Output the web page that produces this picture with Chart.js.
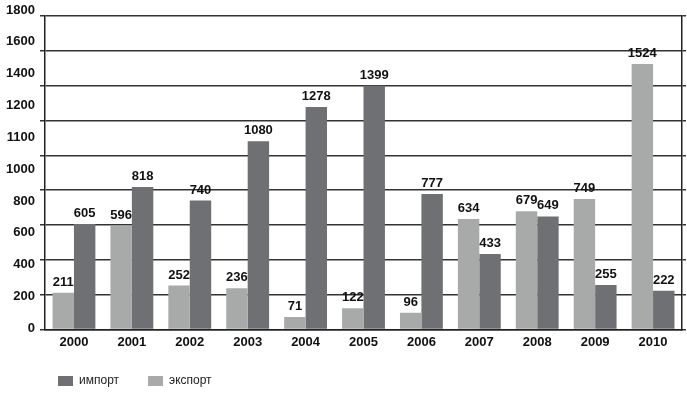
<!DOCTYPE html>
<html>
<head>
<meta charset="utf-8">
<script src="https://cdn.jsdelivr.net/npm/chart.js@4"></script>
<style>
    html, body { margin: 0; padding: 0; background: #fff; }
    #wrap { width: 687px; height: 395px; }
</style>
</head>
<body>
<div id="wrap"><canvas id="tradeChart" width="687" height="395"></canvas></div>
<script>
// ข้อมูลกราฟ
const years = ['2000', '2001', '2002', '2003', '2004', '2005', '2006', '2007', '2008', '2009', '2010'];
const exportVals = [211, 596, 252, 236, 71, 122, 96, 634, 679, 749, 1524];
const importVals = [605, 818, 740, 1080, 1278, 1399, 777, 433, 649, 255, 222];
const yTickLabels = ['0', '200', '400', '600', '800', '1000', '1100', '1200', '1400', '1600', '1800'];
const seriesNames = ['экспорт', 'импорт'];

const LIGHT = '#a8aaaa';
const DARK = '#6f7074';
const FONT = '"Liberation Sans", Arial, sans-serif';

// ตัวเลขบนหัวแท่ง
const valueLabels = {
    id: 'valueLabels',
    afterDatasetsDraw(chart) {
        const ctx = chart.ctx;
        ctx.save();
        ctx.font = 'bold 13px ' + FONT;
        ctx.fillStyle = '#111';
        ctx.textAlign = 'center';
        ctx.textBaseline = 'bottom';
        chart.data.datasets.forEach((ds, di) => {
            chart.getDatasetMeta(di).data.forEach((bar, i) => {
                ctx.fillText(String(ds.data[i]), bar.x, bar.y - 4);
            });
        });
        ctx.restore();
    }
};

// ย้าย legend ไปมุมล่างซ้าย
const legendShift = {
    id: 'legendShift',
    afterLayout(chart) {
        const lg = chart.legend;
        const pad = lg.options.labels.padding;
        lg.left = 58 - pad;
        lg.top = 375 - pad;
    }
};

const ctx = document.getElementById('tradeChart').getContext('2d');
new Chart(ctx, {
    type: 'bar',
    data: {
        labels: years,
        datasets: [
            { label: seriesNames[0], data: exportVals, backgroundColor: LIGHT },
            { label: seriesNames[1], data: importVals, backgroundColor: DARK }
        ]
    },
    options: {
        responsive: false,
        animation: false,
        layout: { padding: { top: 16, right: 0, left: 0, bottom: 0 } },
        datasets: { bar: { categoryPercentage: 0.74, barPercentage: 1.0 } },
        scales: {
            x: {
                grid: { display: false, drawTicks: false },
                border: { color: '#222', width: 1.5 },
                ticks: { font: { family: FONT, size: 13, weight: 'bold' }, color: '#111', padding: 5 }
            },
            y: {
                position: 'left',
                weight: 0,
                min: 0, max: 1800,
                ticks: { stepSize: 200, display: false },
                grid: { color: '#333', lineWidth: 1.5, tickLength: 5 },
                border: { color: '#222', width: 1.5 },
                afterFit(s) { s.width = 5; }
            },
            yl: {
                position: 'left',
                weight: 1,
                min: -0.03, max: 9.81,
                grid: { display: false, drawTicks: false },
                border: { display: false },
                afterBuildTicks(s) { s.ticks = yTickLabels.map((t, i) => ({ value: i })); },
                ticks: {
                    padding: 5,
                    font: { family: FONT, size: 13, weight: 'bold' },
                    color: '#111',
                    callback: (v, i) => yTickLabels[i]
                },
                afterFit(s) { s.width = 40; }
            },
            y2: {
                position: 'right',
                min: 0, max: 1800,
                ticks: { stepSize: 200, display: false },
                grid: { drawOnChartArea: false, color: '#333', lineWidth: 1.5, tickLength: 4 },
                border: { color: '#222', width: 1.5 },
                afterFit(s) { s.width = 5; }
            }
        },
        plugins: {
            legend: {
                position: 'bottom',
                align: 'start',
                reverse: true,
                maxHeight: 40,
                labels: {
                    boxWidth: 15,
                    boxHeight: 10,
                    padding: 29,
                    color: '#222',
                    font: { family: FONT, size: 12 }
                }
            },
            tooltip: { enabled: false }
        }
    },
    plugins: [valueLabels, legendShift]
});
</script>
</body>
</html>
